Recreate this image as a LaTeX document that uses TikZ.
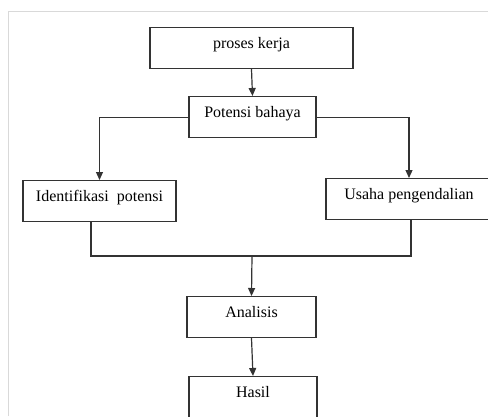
\documentclass[tikz,border=0pt]{standalone}
\usepackage{fontspec}
\setmainfont{Liberation Serif}
\usepackage{tikz}
\usetikzlibrary{positioning, arrows.meta}

\begin{document}
\begin{tikzpicture}[
    x=1pt, y=-1pt,
    every node/.style={font=\fontsize{16}{18}\selectfont},
    kotak/.style={draw=black!80, line width=1.2pt, inner sep=0pt,
      text height=21pt, text depth=20pt},
    garis/.style={draw=black!80, line width=1.2pt},
    panah/.style={garis, -{Triangle[length=8pt, width=7pt]}},
    bingkai/.style={draw=black!15, line width=1pt},
  ]
  \useasboundingbox (0,0) rectangle (488,416);
  \clip (0,0) rectangle (488,416);

  % bingkai
  \draw[bingkai] (8,416) -- (8,11) -- (488,11);

  % kotak-kotak
  \node[kotak, minimum width=203pt, anchor=north] (proses) at (251.5,27) {proses kerja};
  \node[kotak, minimum width=127pt, anchor=north] (bahaya) at (252.5,96) {Potensi bahaya};
  \node[kotak, minimum width=153pt, anchor=north] (identifikasi) at (99.5,180) {Identifikasi\ \ potensi};
  \node[kotak, minimum width=166pt, anchor=north] (usaha) at (409,178) {Usaha pengendalian};
  \node[kotak, minimum width=129pt, anchor=north] (analisis) at (251.5,296) {Analisis};
  \node[kotak, minimum width=128pt, anchor=north] (hasil) at (253,376) {Hasil};

  % titik sambung
  \coordinate (kiri) at (91,256);
  \coordinate (kanan) at (411,256);
  \coordinate (tengah) at (252,256);

  % panah
  \draw[panah] (proses.south) -- (bahaya.north);
  \draw[panah] (bahaya.west) -| (identifikasi.north);
  \draw[panah] (bahaya.east) -| (usaha.north);
  \draw[garis] (identifikasi.south -| kiri) -- (kiri) -- (kanan) -- (usaha.south -| kanan);
  \draw[panah] (tengah) -- (analisis.north);
  \draw[panah] (analisis.south) -- (hasil.north);
\end{tikzpicture}
\end{document}
